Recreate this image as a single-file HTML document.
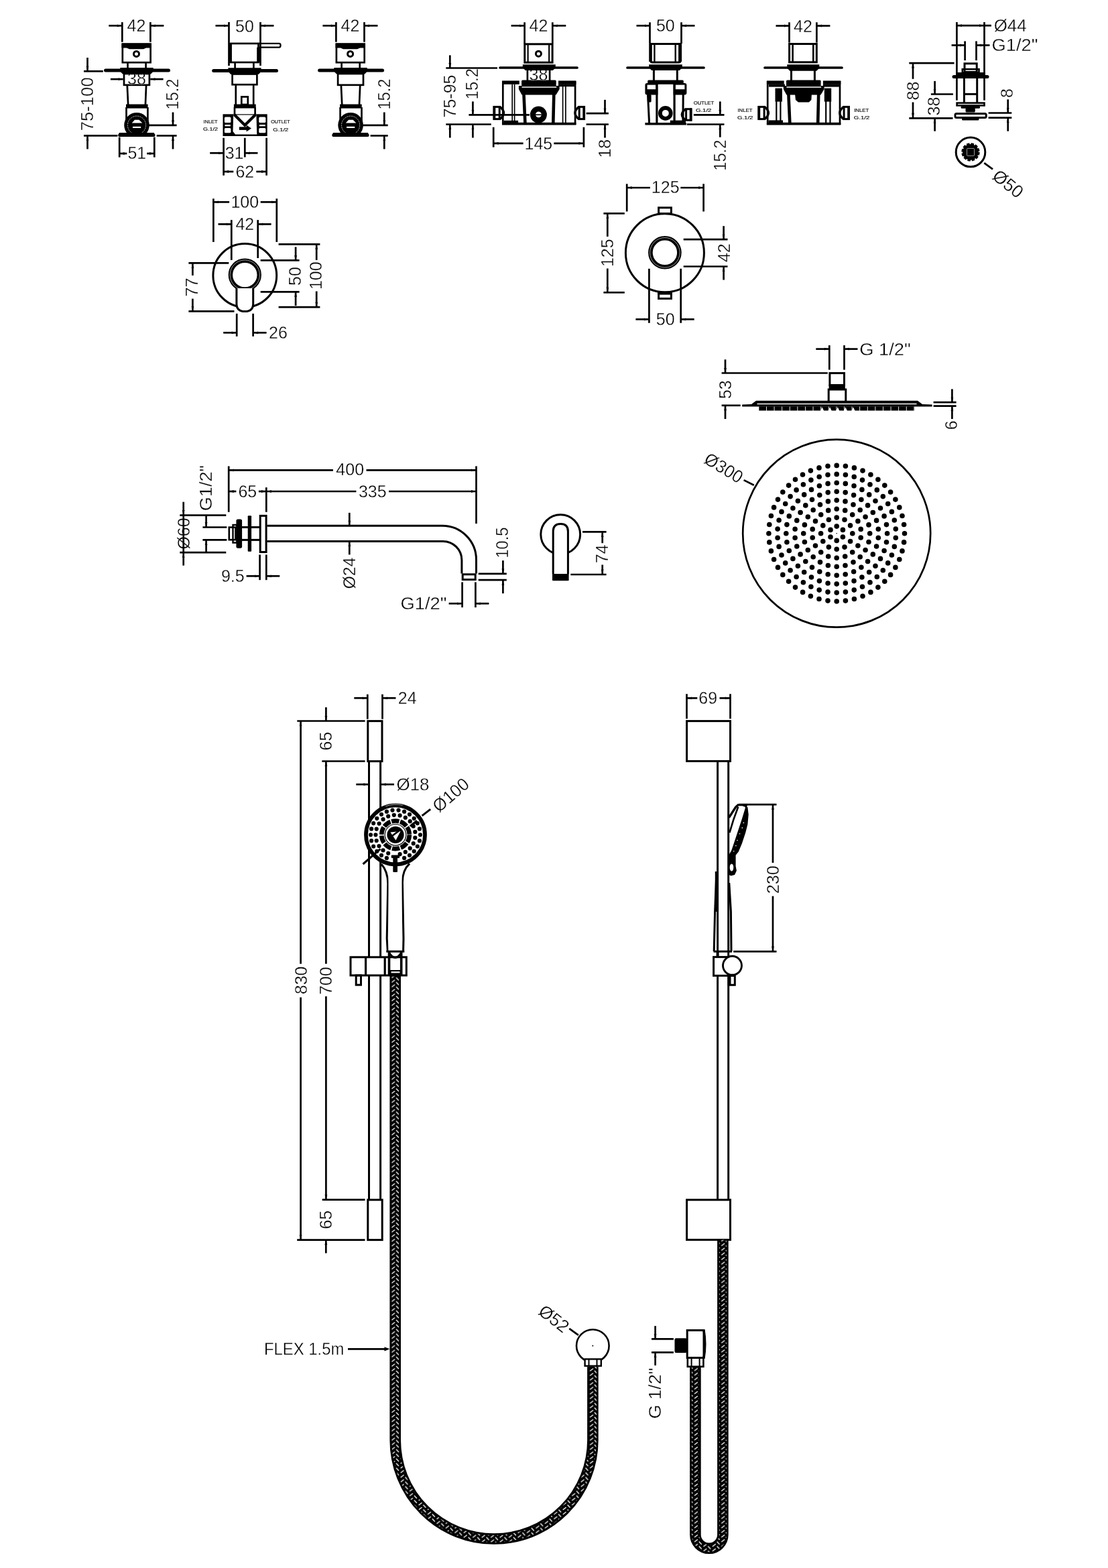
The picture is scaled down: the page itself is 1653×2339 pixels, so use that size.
<!DOCTYPE html>
<html lang="en"><head><meta charset="utf-8"><title>Shower set technical drawing</title>
<style>
html,body{margin:0;padding:0;background:#fff}
body{width:1653px;height:2339px;overflow:hidden}
svg{display:block;filter:grayscale(1)}
</style></head><body>
<svg width="1653" height="2339" viewBox="0 0 1653 2339">
<g fill="none" stroke="#000" stroke-width="2.7">
<clipPath id="cv"><rect x="180" y="160" width="50" height="42"/></clipPath>
<g transform="translate(0 0)">
<path d="M182.3 33.1L182.3 62.7"/>
<path d="M224.4 33.1L224.4 62.7"/>
<path d="M162.3 38.3L182.3 38.3"/>
<path d="M224.4 38.3L244.4 38.3"/>
<path d="M181.3 38.3L174.8 36.4L174.8 40.2Z" fill="#000" stroke="none"/>
<path d="M225.4 38.3L231.9 36.4L231.9 40.2Z" fill="#000" stroke="none"/>
<rect x="182.8" y="65.7" width="41.8" height="27.5"/>
<path d="M181.5 64.4L225.9 64.4L225.9 71.5L218 71.5L214 73.2L193 73.2L189 71.5L181.5 71.5Z" stroke-width="0" fill="#000"/>
<circle cx="203.5" cy="80.4" r="4" stroke-width="3"/>
<path d="M190.5 93L190.5 102"/>
<path d="M217.6 93L217.6 102"/>
<path d="M157.5 105.1L251.5 105.1" stroke-width="5" stroke-linecap="round"/>
<rect x="185" y="110" width="37.9" height="16.8"/>
<path d="M189.8 127.6L191.2 157"/>
<path d="M218.1 127.6L216.9 157"/>
<rect x="188" y="155.5" width="32.6" height="6.1" fill="#000" stroke="none"/>
<path d="M188.5 160L188.5 185"/>
<path d="M220.4 160L220.4 185"/>
<circle cx="204" cy="186.7" r="18.8" stroke-width="0" fill="#000" clip-path="url(#cv)"/>
<circle cx="204" cy="186.7" r="13.6" stroke-width="0.7" stroke="#fff" stroke-dasharray="2.4 1"/>
<path d="M196.7 183.6L201 178.7L207.5 178.7L212.3 183.6Z" stroke-width="0" fill="#fff"/>
<rect x="198" y="188.8" width="12.1" height="2.2" fill="#fff" stroke="none"/>
<path d="M176 201.5L178 198L229.7 198L231.7 201.5L230.5 203.9L177.2 203.9Z" stroke-width="0" fill="#000"/>
</g>
<g transform="translate(319.1 0)">
<path d="M182.3 33.1L182.3 62.7"/>
<path d="M224.4 33.1L224.4 62.7"/>
<path d="M162.3 38.3L182.3 38.3"/>
<path d="M224.4 38.3L244.4 38.3"/>
<path d="M181.3 38.3L174.8 36.4L174.8 40.2Z" fill="#000" stroke="none"/>
<path d="M225.4 38.3L231.9 36.4L231.9 40.2Z" fill="#000" stroke="none"/>
<rect x="182.8" y="65.7" width="41.8" height="27.5"/>
<path d="M181.5 64.4L225.9 64.4L225.9 71.5L218 71.5L214 73.2L193 73.2L189 71.5L181.5 71.5Z" stroke-width="0" fill="#000"/>
<circle cx="203.5" cy="80.4" r="4" stroke-width="3"/>
<path d="M190.5 93L190.5 102"/>
<path d="M217.6 93L217.6 102"/>
<path d="M157.5 105.1L251.5 105.1" stroke-width="5" stroke-linecap="round"/>
<rect x="185" y="110" width="37.9" height="16.8"/>
<path d="M189.8 127.6L191.2 157"/>
<path d="M218.1 127.6L216.9 157"/>
<rect x="188" y="155.5" width="32.6" height="6.1" fill="#000" stroke="none"/>
<path d="M188.5 160L188.5 185"/>
<path d="M220.4 160L220.4 185"/>
<circle cx="204" cy="186.7" r="18.8" stroke-width="0" fill="#000" clip-path="url(#cv)"/>
<circle cx="204" cy="186.7" r="13.6" stroke-width="0.7" stroke="#fff" stroke-dasharray="2.4 1"/>
<path d="M196.7 183.6L201 178.7L207.5 178.7L212.3 183.6Z" stroke-width="0" fill="#fff"/>
<rect x="198" y="188.8" width="12.1" height="2.2" fill="#fff" stroke="none"/>
<path d="M176 201.5L178 198L229.7 198L231.7 201.5L230.5 203.9L177.2 203.9Z" stroke-width="0" fill="#000"/>
</g>
<path d="M125 106.3L153.8 106.3"/>
<path d="M125 202.4L175.4 202.4"/>
<path d="M130.5 86L130.5 106.3"/>
<path d="M130.5 202.4L130.5 222.4"/>
<path d="M130.5 105.3L128.6 98.8L132.4 98.8Z" fill="#000" stroke="none"/>
<path d="M130.5 203.4L128.6 209.9L132.4 209.9Z" fill="#000" stroke="none"/>
<path d="M164.9 118.1L183.7 118.1"/>
<path d="M224.2 118.1L243.6 118.1"/>
<path d="M183 118.1L176.5 116.2L176.5 120Z" fill="#000" stroke="none"/>
<path d="M225 118.1L231.5 116.2L231.5 120Z" fill="#000" stroke="none"/>
<path d="M222 186.9L263.6 186.9"/>
<path d="M233.7 202.4L263.6 202.4"/>
<path d="M258 167.5L258 186.9"/>
<path d="M258 202.4L258 222.4"/>
<path d="M258 185.9L256.1 179.4L259.9 179.4Z" fill="#000" stroke="none"/>
<path d="M258 203.4L256.1 209.9L259.9 209.9Z" fill="#000" stroke="none"/>
<path d="M541.5 186.9L578.7 186.9"/>
<path d="M552.6 202.4L578.7 202.4"/>
<path d="M573.3 167.5L573.3 186.9"/>
<path d="M573.3 202.4L573.3 222.4"/>
<path d="M573.3 185.9L571.4 179.4L575.2 179.4Z" fill="#000" stroke="none"/>
<path d="M573.3 203.4L571.4 209.9L575.2 209.9Z" fill="#000" stroke="none"/>
<path d="M178.2 204.6L178.2 234.6"/>
<path d="M230.3 204.6L230.3 234.6"/>
<path d="M178.2 229L189.3 229"/>
<path d="M219.2 229L230.3 229"/>
<path d="M179.2 229L185.7 227.1L185.7 230.9Z" fill="#000" stroke="none"/>
<path d="M229.3 229L222.8 227.1L222.8 230.9Z" fill="#000" stroke="none"/>
<path d="M341.5 33L341.5 98.1"/>
<path d="M388.5 33L388.5 98.1"/>
<path d="M321.5 38.3L341.5 38.3"/>
<path d="M388.5 38.3L408.5 38.3"/>
<path d="M340.5 38.3L334 36.4L334 40.2Z" fill="#000" stroke="none"/>
<path d="M389.5 38.3L396 36.4L396 40.2Z" fill="#000" stroke="none"/>
<rect x="344.5" y="64.9" width="41" height="28.1"/>
<path d="M343.6 64L343.6 94" stroke-width="4"/>
<path d="M385.5 64.9H416.5Q418.5 64.9 418.5 67.5Q418.5 70.6 416.5 70.6H387V93" stroke-width="2.4"/>
<path d="M384.4 70.6L384.4 93" stroke-width="2.4"/>
<path d="M350.6 93L350.6 102"/>
<path d="M378.4 93L378.4 102"/>
<path d="M318.7 105.4L412.5 105.4" stroke-width="5" stroke-linecap="round"/>
<path d="M340.4 101.3L389.6 101.3L389.6 106.5L386 110.8L344 110.8L340.4 106.5Z" stroke-width="0" fill="#000"/>
<rect x="346.6" y="110.5" width="36.8" height="15.7"/>
<path d="M351.8 127L351.8 157"/>
<path d="M378.2 127L378.2 157"/>
<rect x="360.3" y="144.4" width="9.5" height="11.6"/>
<rect x="348.9" y="155.5" width="32.8" height="6" fill="#000" stroke="none"/>
<path d="M350 160L350 171"/>
<path d="M380.6 160L380.6 171"/>
<rect x="332.5" y="170.3" width="66.2" height="32.7" fill="#000" stroke="none"/>
<path d="M348.2 171.5L382.4 171.5L383.3 200.4L351 200.4L347.5 196Z" stroke-width="0" fill="#fff"/>
<path d="M349.5 171L365.3 186.8L381.2 171" stroke-width="4.2"/>
<path d="M356.8 191.6L370 191.6" stroke-width="4.6"/>
<path d="M367.6 186.6L375 191.6L367.6 196.4Z" stroke-width="0" fill="#000"/>
<rect x="334.9" y="174.6" width="9.5" height="8.4" fill="#fff" stroke="none" rx="1.5"/>
<rect x="335.5" y="186" width="8.3" height="2.3" fill="#fff" stroke="none"/>
<rect x="334.9" y="191" width="9.5" height="7.3" fill="#fff" stroke="none" rx="1.5"/>
<rect x="386.3" y="174.6" width="10.1" height="8.4" fill="#fff" stroke="none" rx="1.5"/>
<rect x="386.9" y="186" width="8.9" height="2.3" fill="#fff" stroke="none"/>
<rect x="386.3" y="191" width="10.1" height="7.3" fill="#fff" stroke="none" rx="1.5"/>
<path d="M333.6 205.7L333.6 261.7"/>
<path d="M397.6 205.7L397.6 261.7"/>
<path d="M365.3 205.7L365.3 234.5"/>
<path d="M313.2 228.3L333.6 228.3"/>
<path d="M365.3 228.3L384.5 228.3"/>
<path d="M332.6 228.3L326.1 226.4L326.1 230.2Z" fill="#000" stroke="none"/>
<path d="M366.3 228.3L372.8 226.4L372.8 230.2Z" fill="#000" stroke="none"/>
<path d="M333.6 256L348.3 256"/>
<path d="M382.3 256L397.6 256"/>
<path d="M334.6 256L341.1 254.1L341.1 257.9Z" fill="#000" stroke="none"/>
<path d="M396.6 256L390.1 254.1L390.1 257.9Z" fill="#000" stroke="none"/>
<path d="M782.6 33.3L782.6 64.9"/>
<path d="M824.3 33.3L824.3 64.9"/>
<path d="M762.6 38.3L782.6 38.3"/>
<path d="M824.3 38.3L844.3 38.3"/>
<path d="M781.6 38.3L775.1 36.4L775.1 40.2Z" fill="#000" stroke="none"/>
<path d="M825.3 38.3L831.8 36.4L831.8 40.2Z" fill="#000" stroke="none"/>
<rect x="782.8" y="65.8" width="41.3" height="27.4" stroke-width="3"/>
<path d="M787.6 65L787.6 93" stroke-width="2.2"/>
<path d="M819.2 65L819.2 93" stroke-width="2.2"/>
<circle cx="803.4" cy="80.2" r="4" stroke-width="3"/>
<path d="M746 101L861 101" stroke-width="3.7" stroke-linecap="round"/>
<path d="M786.9 104L786.9 120.6"/>
<path d="M820.1 104L820.1 120.6"/>
<g transform="translate(0 0)">
<path d="M750.3 121L750.3 186"/>
<path d="M858.1 121L858.1 186"/>
<path d="M749 184.6L859.4 184.6" stroke-width="3.6"/>
<rect x="749" y="120.4" width="25.8" height="5.4" fill="#000" stroke="none"/>
<rect x="833" y="120.4" width="26.4" height="5.4" fill="#000" stroke="none"/>
<rect x="778.1" y="119.6" width="51.6" height="8.7" fill="#000" stroke="none" rx="1.5"/>
<path d="M773.9 128L834.7 128L834.7 133L829.5 141.6L778.5 141.6L773.9 133Z" stroke-width="0" fill="#000"/>
<path d="M778.5 130L830.2 130" stroke-width="1.6" stroke="#fff"/>
<path d="M781.5 141L783.4 183" stroke-width="4.6"/>
<path d="M826.3 141L825.3 183" stroke-width="4.6"/>
<path d="M764.2 125.6L764.2 183" stroke-width="1.7"/>
<path d="M767.6 125.6L767.6 183" stroke-width="1.7"/>
<path d="M839.6 125.6L839.6 183" stroke-width="1.7"/>
<path d="M843.9 125.6L843.9 183" stroke-width="1.7"/>
<rect x="833" y="125.5" width="24" height="3.7" fill="#000" stroke="none"/>
<rect x="751.5" y="179.8" width="21.6" height="4.2" fill="#000" stroke="none"/>
<circle cx="803.4" cy="171.1" r="12.5" stroke-width="0" fill="#000"/>
<circle cx="803.4" cy="170.8" r="4.4" stroke-width="0" fill="#fff"/>
<path d="M799 171.2L807.8 171.2" stroke-width="1.6"/>
<rect x="737" y="159.4" width="8.2" height="18.2" stroke-width="3"/>
<path d="M737.5 158.1L737.5 178.9" stroke-width="3.6"/>
<path d="M745.5 159.1Q757.5 168.5 745.5 177.9" stroke-width="3.4"/>
<rect x="864.2" y="159.4" width="7.4" height="18.2" stroke-width="3"/>
<path d="M871.1 158.1L871.1 178.9" stroke-width="3.6"/>
<path d="M863.9 159.1Q851.9 168.5 863.9 177.9" stroke-width="3.4"/>
</g>
<path d="M665.3 101.5L742 101.5"/>
<path d="M671.3 82.4L671.3 101.5"/>
<path d="M671.3 100.5L669.4 94L673.2 94Z" fill="#000" stroke="none"/>
<path d="M665.3 185.5L732.7 185.5"/>
<path d="M671.3 185.5L671.3 205.5"/>
<path d="M671.3 186.5L669.4 193L673.2 193Z" fill="#000" stroke="none"/>
<path d="M705.4 185.5L705.4 205.5"/>
<path d="M705.4 186.5L703.5 193L707.3 193Z" fill="#000" stroke="none"/>
<path d="M705.4 151.4L705.4 171.4"/>
<path d="M705.4 170.4L703.5 163.9L707.3 163.9Z" fill="#000" stroke="none"/>
<path d="M699.4 171.4L790 171.4"/>
<path d="M736.2 189.7L736.2 219.6"/>
<path d="M870.9 189.7L870.9 219.6"/>
<path d="M736.2 213.8L780.6 213.8"/>
<path d="M826.3 213.8L870.9 213.8"/>
<path d="M737.2 213.8L743.7 211.9L743.7 215.7Z" fill="#000" stroke="none"/>
<path d="M869.9 213.8L863.4 211.9L863.4 215.7Z" fill="#000" stroke="none"/>
<path d="M874.6 169.2L907.9 169.2"/>
<path d="M874.6 185.5L907.9 185.5"/>
<path d="M902.5 148.9L902.5 169.2"/>
<path d="M902.5 185.5L902.5 205.5"/>
<path d="M902.5 168.2L900.6 161.7L904.4 161.7Z" fill="#000" stroke="none"/>
<path d="M902.5 186.5L900.6 193L904.4 193Z" fill="#000" stroke="none"/>
<path d="M969.5 33.3L969.5 64.9"/>
<path d="M1016.5 33.3L1016.5 64.9"/>
<path d="M949.5 38.3L969.5 38.3"/>
<path d="M1016.5 38.3L1036.5 38.3"/>
<path d="M968.5 38.3L962 36.4L962 40.2Z" fill="#000" stroke="none"/>
<path d="M1017.5 38.3L1024 36.4L1024 40.2Z" fill="#000" stroke="none"/>
<path d="M970.5 65.5H1015.3V90Q1015.3 93 1012.3 93H973.5Q970.5 93 970.5 90Z" stroke-width="3"/>
<path d="M970.5 65L970.5 92" stroke-width="4.6"/>
<path d="M1014.6 65L1014.6 92" stroke-width="5"/>
<path d="M976.4 66L976.4 93" stroke-width="2.4"/>
<path d="M1007.7 66L1007.7 93" stroke-width="2.4"/>
<path d="M936 101L1050 101" stroke-width="3.7" stroke-linecap="round"/>
<path d="M968.2 96.2L1017.8 96.2L1017.8 101.1L1013.8 104.9L972.2 104.9L968.2 101.1Z" fill="#000" stroke="none"/>
<path d="M975.4 104L975.4 120.6" stroke-width="3"/>
<path d="M1010.3 104L1010.3 120.6" stroke-width="3"/>
<rect x="966.2" y="119.6" width="53.6" height="6.2" fill="#000" stroke="none" rx="1.5"/>
<rect x="962.4" y="124" width="62" height="17.6" fill="#000" stroke="none" rx="3"/>
<rect x="965.6" y="126.6" width="12.7" height="6.6" fill="#fff" stroke="none"/>
<rect x="1007.6" y="126.6" width="13.8" height="6.6" fill="#fff" stroke="none"/>
<rect x="981.4" y="125.8" width="23.2" height="57.2" fill="#fff" stroke="none"/>
<path d="M979.9 125L979.9 184" stroke-width="3.2"/>
<path d="M1006.1 125L1006.1 184" stroke-width="3.2"/>
<path d="M966.5 141L968.6 184" stroke-width="3"/>
<path d="M1019.2 141L1018.9 184" stroke-width="3"/>
<rect x="965.8" y="141" width="5.8" height="11.5" fill="#000" stroke="none" rx="1.5"/>
<path d="M962.4 184.7L1023.9 184.7" stroke-width="3.6"/>
<rect x="999.8" y="179.6" width="23.2" height="4.9" fill="#000" stroke="none"/>
<circle cx="992.8" cy="168.9" r="7.9" stroke-width="5.8" fill="#fff"/>
<rect x="1023.6" y="162.7" width="7.4" height="16.5" stroke-width="3"/>
<path d="M1030.5 161.4L1030.5 180.5" stroke-width="3.6"/>
<path d="M1023.3 162.4Q1011.3 170.9 1023.3 179.5" stroke-width="3.4"/>
<path d="M1034.8 171.4L1080.5 171.4"/>
<path d="M1024.8 185.5L1080.5 185.5"/>
<path d="M1074.3 151.4L1074.3 171.4"/>
<path d="M1074.3 185.5L1074.3 204.7"/>
<path d="M1074.3 170.4L1072.4 163.9L1076.2 163.9Z" fill="#000" stroke="none"/>
<path d="M1074.3 186.5L1072.4 193L1076.2 193Z" fill="#000" stroke="none"/>
<path d="M1177.5 33.3L1177.5 63.6"/>
<path d="M1218.4 33.3L1218.4 63.6"/>
<path d="M1157.5 38.5L1177.5 38.5"/>
<path d="M1218.4 38.5L1238.4 38.5"/>
<path d="M1176.5 38.5L1170 36.6L1170 40.4Z" fill="#000" stroke="none"/>
<path d="M1219.4 38.5L1225.9 36.6L1225.9 40.4Z" fill="#000" stroke="none"/>
<rect x="1177.6" y="65.5" width="40.7" height="27.3" stroke-width="3"/>
<path d="M1182.6 65L1182.6 93" stroke-width="2.6"/>
<path d="M1213.3 65L1213.3 93" stroke-width="2.6"/>
<path d="M1141 101L1256 101" stroke-width="3.7" stroke-linecap="round"/>
<path d="M1174.3 96.2L1222.3 96.2L1222.3 101.5L1218.3 105.8L1178.3 105.8L1174.3 101.5Z" fill="#000" stroke="none"/>
<path d="M1180.5 105L1180.5 120.6" stroke-width="3"/>
<path d="M1215.4 105L1215.4 120.6" stroke-width="3"/>
<g transform="translate(394.9 0)">
<path d="M750.3 121L750.3 186"/>
<path d="M858.1 121L858.1 186"/>
<path d="M749 184.6L859.4 184.6" stroke-width="3.6"/>
<rect x="749" y="120.4" width="25.8" height="5.4" fill="#000" stroke="none"/>
<rect x="833" y="120.4" width="26.4" height="5.4" fill="#000" stroke="none"/>
<rect x="778.1" y="119.6" width="51.6" height="8.7" fill="#000" stroke="none" rx="1.5"/>
<path d="M773.9 128L834.7 128L834.7 133L829.5 141.6L778.5 141.6L773.9 133Z" stroke-width="0" fill="#000"/>
<path d="M778.5 130L830.2 130" stroke-width="1.6" stroke="#fff"/>
<path d="M781.5 141L783.4 183" stroke-width="4.6"/>
<path d="M826.3 141L825.3 183" stroke-width="4.6"/>
<rect x="752" y="125.5" width="24" height="4.1" fill="#000" stroke="none"/>
<rect x="833" y="125.5" width="24" height="4.1" fill="#000" stroke="none"/>
<rect x="761.6" y="131.6" width="10.4" height="20" fill="#000" stroke="none"/>
<rect x="834.9" y="131.6" width="10.4" height="20" fill="#000" stroke="none"/>
<path d="M763.4 151L763.4 183" stroke-width="2.2"/>
<path d="M769.5 151L769.5 183" stroke-width="2.2"/>
<path d="M837.3 151L837.3 183" stroke-width="2.2"/>
<path d="M843.6 151L843.6 183" stroke-width="2.2"/>
<path d="M791.2 141L816 141L815.5 149L812 152.6L796 152.6L792 149Z" stroke-width="0" fill="#000"/>
<rect x="751.5" y="179.4" width="21.6" height="4.6" fill="#000" stroke="none"/>
<rect x="737" y="159.4" width="8.2" height="18.2" stroke-width="3"/>
<path d="M737.5 158.1L737.5 178.9" stroke-width="3.6"/>
<path d="M745.5 159.1Q757.5 168.5 745.5 177.9" stroke-width="3.4"/>
<rect x="864.2" y="159.4" width="7.4" height="18.2" stroke-width="3"/>
<path d="M871.1 158.1L871.1 178.9" stroke-width="3.6"/>
<path d="M863.9 159.1Q851.9 168.5 863.9 177.9" stroke-width="3.4"/>
</g>
<path d="M1427.4 33L1427.4 149.7"/>
<path d="M1468.5 33L1468.5 149.7"/>
<path d="M1427.4 38.1L1478.9 38.1"/>
<path d="M1428.4 38.1L1434.9 36.2L1434.9 40Z" fill="#000" stroke="none"/>
<path d="M1467.5 38.1L1461 36.2L1461 40Z" fill="#000" stroke="none"/>
<path d="M1439.6 61.4L1439.6 90.1"/>
<path d="M1456.5 61.4L1456.5 90.1"/>
<path d="M1419.6 67.5L1439.6 67.5"/>
<path d="M1456.5 67.5L1476.5 67.5"/>
<path d="M1438.6 67.5L1432.1 65.6L1432.1 69.4Z" fill="#000" stroke="none"/>
<path d="M1457.5 67.5L1464 65.6L1464 69.4Z" fill="#000" stroke="none"/>
<path d="M1356.3 94.1L1423.6 94.1"/>
<path d="M1356.3 176.3L1421.5 176.3"/>
<path d="M1362 94.1L1362 117.8"/>
<path d="M1362 152.5L1362 176.3"/>
<path d="M1362 95.1L1360.1 101.6L1363.9 101.6Z" fill="#000" stroke="none"/>
<path d="M1362 175.3L1360.1 168.8L1363.9 168.8Z" fill="#000" stroke="none"/>
<path d="M1388.9 140.5L1421.9 140.5"/>
<path d="M1394.6 120.9L1394.6 140.5"/>
<path d="M1394.6 176.3L1394.6 195.7"/>
<path d="M1394.6 139.5L1392.7 133L1396.5 133Z" fill="#000" stroke="none"/>
<path d="M1394.6 177.3L1392.7 183.8L1396.5 183.8Z" fill="#000" stroke="none"/>
<path d="M1474.6 168.5L1509.3 168.5"/>
<path d="M1474.6 175.6L1509.3 175.6"/>
<path d="M1503.7 148.3L1503.7 168.5"/>
<path d="M1503.7 175.6L1503.7 195.7"/>
<path d="M1503.7 167.5L1501.8 161L1505.6 161Z" fill="#000" stroke="none"/>
<path d="M1503.7 176.6L1501.8 183.1L1505.6 183.1Z" fill="#000" stroke="none"/>
<rect x="1439" y="94.8" width="18.2" height="12.7" stroke-width="3"/>
<rect x="1435.8" y="103.2" width="24.7" height="5.2" stroke-width="2.6"/>
<rect x="1426.4" y="108" width="43.4" height="4.5" fill="#000" stroke="none"/>
<path d="M1423 114.6L1473 114.6" stroke-width="5" stroke-linecap="round"/>
<path d="M1438.4 117L1438.4 153" stroke-width="3"/>
<path d="M1457.7 117L1457.7 153" stroke-width="3"/>
<path d="M1437.5 140.4L1458.5 140.4" stroke-width="3"/>
<rect x="1427.6" y="153.6" width="40.9" height="3.8" stroke-width="2.6"/>
<rect x="1433.5" y="158" width="28.5" height="3.8" fill="#000" stroke="none" rx="1.5"/>
<rect x="1440.5" y="161" width="14.3" height="6.6" fill="#000" stroke="none" rx="1.5"/>
<rect x="1425" y="169.4" width="46.2" height="6" stroke-width="3" rx="2"/>
<rect x="1435" y="176" width="25.5" height="3.5" fill="#000" stroke="none" rx="1.5"/>
<circle cx="1448" cy="226.9" r="21.8" stroke-width="3"/>
<circle cx="1448" cy="226.9" r="11.8" stroke-width="0" fill="#000"/>
<circle cx="1448" cy="226.9" r="12.2" stroke-width="3" stroke-dasharray="4.4 2"/>
<rect x="1442.5" y="221.4" width="11" height="11" stroke-width="0.6" rx="1" stroke="#fff"/>
<path d="M1468.3 243.2L1481 252.4"/>
<path d="M318.4 296.3L318.4 361"/>
<path d="M412.8 296.3L412.8 361"/>
<path d="M318.4 301.4L342.1 301.4"/>
<path d="M388.7 301.4L412.8 301.4"/>
<path d="M319.4 301.4L325.9 299.5L325.9 303.3Z" fill="#000" stroke="none"/>
<path d="M411.8 301.4L405.3 299.5L405.3 303.3Z" fill="#000" stroke="none"/>
<path d="M345.3 328.1L345.3 388"/>
<path d="M384.7 328.1L384.7 385"/>
<path d="M325.5 334.4L345.3 334.4"/>
<path d="M384.7 334.4L404.6 334.4"/>
<path d="M344.3 334.4L337.8 332.5L337.8 336.3Z" fill="#000" stroke="none"/>
<path d="M385.7 334.4L392.2 332.5L392.2 336.3Z" fill="#000" stroke="none"/>
<circle cx="365.3" cy="410.9" r="47.4" stroke-width="3"/>
<circle cx="365.3" cy="410.1" r="21.4" stroke-width="6.4" fill="#fff"/>
<circle cx="365.3" cy="410.1" r="22.2" stroke-width="0.6" stroke="#fff"/>
<path d="M352.9 430V453Q352.9 464.6 365.3 464.6Q377.7 464.6 377.7 453V430" stroke-width="3" fill="#fff"/>
<path d="M281.4 392.4L341.3 392.4"/>
<path d="M281.4 464.4L349.5 464.4"/>
<path d="M287.4 392.4L287.4 410.9"/>
<path d="M287.4 445.6L287.4 464.4"/>
<path d="M287.4 393.4L285.5 399.9L289.3 399.9Z" fill="#000" stroke="none"/>
<path d="M287.4 463.4L285.5 456.9L289.3 456.9Z" fill="#000" stroke="none"/>
<path d="M388.7 388.4L446.6 388.4"/>
<path d="M388.7 435.3L446.6 435.3"/>
<path d="M441.1 368.4L441.1 388.4"/>
<path d="M441.1 435.3L441.1 456"/>
<path d="M441.1 387.4L439.2 380.9L443 380.9Z" fill="#000" stroke="none"/>
<path d="M441.1 436.3L439.2 442.8L443 442.8Z" fill="#000" stroke="none"/>
<path d="M415.6 364.3L477.4 364.3"/>
<path d="M415.6 458.2L477.4 458.2"/>
<path d="M472.2 364.3L472.2 388"/>
<path d="M472.2 434.5L472.2 458.2"/>
<path d="M472.2 365.3L470.3 371.8L474.1 371.8Z" fill="#000" stroke="none"/>
<path d="M472.2 457.2L470.3 450.7L474.1 450.7Z" fill="#000" stroke="none"/>
<path d="M353.2 467.8L353.2 501.8"/>
<path d="M377.6 467.8L377.6 501.8"/>
<path d="M333.2 496.3L353.2 496.3"/>
<path d="M377.6 496.3L397.6 496.3"/>
<path d="M352.2 496.3L345.7 494.4L345.7 498.2Z" fill="#000" stroke="none"/>
<path d="M378.6 496.3L385.1 494.4L385.1 498.2Z" fill="#000" stroke="none"/>
<path d="M935.2 274.3L935.2 315.5"/>
<path d="M1049.6 274.3L1049.6 315.5"/>
<path d="M935.2 280L969.9 280"/>
<path d="M1015.3 280L1049.6 280"/>
<path d="M936.2 280L942.7 278.1L942.7 281.9Z" fill="#000" stroke="none"/>
<path d="M1048.6 280L1042.1 278.1L1042.1 281.9Z" fill="#000" stroke="none"/>
<path d="M900.4 318.4L931.8 318.4"/>
<path d="M900.4 436.3L931.8 436.3"/>
<path d="M906.3 318.4L906.3 352.9"/>
<path d="M906.3 400.5L906.3 436.3"/>
<path d="M906.3 319.4L904.4 325.9L908.2 325.9Z" fill="#000" stroke="none"/>
<path d="M906.3 435.3L904.4 428.8L908.2 428.8Z" fill="#000" stroke="none"/>
<circle cx="991.9" cy="377.3" r="58.5" stroke-width="3"/>
<circle cx="991.9" cy="376.8" r="21.5" stroke-width="6.6" fill="#fff"/>
<circle cx="991.9" cy="376.8" r="22.3" stroke-width="0.6" stroke="#fff"/>
<rect x="982.6" y="309.8" width="18.8" height="8.8" stroke-width="3" fill="#fff"/>
<rect x="982.6" y="437.4" width="18.8" height="8" stroke-width="3" fill="#fff"/>
<rect x="981.3" y="435" width="21.4" height="4.6" fill="#000" stroke="none"/>
<path d="M1019.7 357.2L1085.5 357.2"/>
<path d="M1019.7 397.5L1085.5 397.5"/>
<path d="M1079.6 337.2L1079.6 357.2"/>
<path d="M1079.6 397.5L1079.6 417.5"/>
<path d="M1079.6 356.2L1077.7 349.7L1081.5 349.7Z" fill="#000" stroke="none"/>
<path d="M1079.6 398.5L1077.7 405L1081.5 405Z" fill="#000" stroke="none"/>
<path d="M968.4 400.8L968.4 481.8"/>
<path d="M1015.7 400.8L1015.7 481.8"/>
<path d="M948.4 476.3L968.4 476.3"/>
<path d="M1015.7 476.3L1035.7 476.3"/>
<path d="M967.4 476.3L960.9 474.4L960.9 478.2Z" fill="#000" stroke="none"/>
<path d="M1016.7 476.3L1023.2 474.4L1023.2 478.2Z" fill="#000" stroke="none"/>
<path d="M1237.3 515.1L1237.3 551.6"/>
<path d="M1259.5 515.1L1259.5 551.6"/>
<path d="M1217.3 520.6L1237.3 520.6"/>
<path d="M1259.5 520.6L1279.5 520.6"/>
<path d="M1236.3 520.6L1229.8 518.7L1229.8 522.5Z" fill="#000" stroke="none"/>
<path d="M1260.5 520.6L1267 518.7L1267 522.5Z" fill="#000" stroke="none"/>
<path d="M1076.6 556.5L1234.8 556.5"/>
<path d="M1082 536.3L1082 556.5"/>
<path d="M1082 555.5L1080.1 549L1083.9 549Z" fill="#000" stroke="none"/>
<path d="M1076.6 604.8L1104.7 604.8"/>
<path d="M1082 604.8L1082 625"/>
<path d="M1082 605.8L1080.1 612.3L1083.9 612.3Z" fill="#000" stroke="none"/>
<rect x="1237.9" y="556.6" width="21.6" height="17.9" stroke-width="3"/>
<rect x="1236.6" y="573.8" width="24.2" height="6.4" fill="#000" stroke="none"/>
<rect x="1236.2" y="581" width="25.6" height="19" stroke-width="3"/>
<path d="M1107.2 603.4L1121 603L1128 597.8L1369 597.8L1376 603L1390.6 603.4L1390.6 606.4L1107.2 606.4Z" stroke-width="0" fill="#000"/>
<path d="M1129.5 602.5L1367.5 602.5" stroke-width="1.5" stroke="#fff"/>
<path d="M1132.3 609.4H1364.5" stroke-width="6.4" stroke-dasharray="10.7 0.9"/>
<path d="M1224 613L1226.6 607.2L1229.2 613Z" stroke-width="0" fill="#fff"/>
<path d="M1235.6 613L1238.2 607.2L1240.8 613Z" stroke-width="0" fill="#fff"/>
<path d="M1247.2 613L1249.8 607.2L1252.4 613Z" stroke-width="0" fill="#fff"/>
<path d="M1258.8 613L1261.4 607.2L1264 613Z" stroke-width="0" fill="#fff"/>
<path d="M1270.4 613L1273 607.2L1275.6 613Z" stroke-width="0" fill="#fff"/>
<path d="M1392.6 600.2L1426.6 600.2"/>
<path d="M1392.6 605.6L1426.6 605.6"/>
<path d="M1420.4 580.4L1420.4 600.2"/>
<path d="M1420.4 605.6L1420.4 625"/>
<path d="M1420.4 599.2L1418.5 592.7L1422.3 592.7Z" fill="#000" stroke="none"/>
<path d="M1420.4 606.6L1418.5 613.1L1422.3 613.1Z" fill="#000" stroke="none"/>
<circle cx="1248.2" cy="795.7" r="140" stroke-width="2.7"/>
<circle cx="1248.2" cy="795.7" r="0.8" stroke-width="0" fill="#000"/>
<path d="M1248.2 785.1h0M1257.4 790.4h0M1257.4 801h0M1248.2 806.4h0M1239 801h0M1239 790.4h0M1248.2 772.1h0M1260 775.3h0M1268.6 783.9h0M1271.8 795.7h0M1268.6 807.5h0M1260 816.1h0M1248.2 819.3h0M1236.4 816.1h0M1227.8 807.5h0M1224.6 795.7h0M1227.8 783.9h0M1236.4 775.3h0M1248.2 759.2h0M1260.7 761.4h0M1271.7 767.7h0M1279.9 777.4h0M1284.2 789.4h0M1284.2 802h0M1279.9 814h0M1271.7 823.7h0M1260.7 830h0M1248.2 832.2h0M1235.7 830h0M1224.7 823.7h0M1216.5 814h0M1212.2 802h0M1212.2 789.4h0M1216.5 777.4h0M1224.7 767.7h0M1235.7 761.4h0M1248.2 746.2h0M1261 747.9h0M1273 752.8h0M1283.2 760.7h0M1291.1 771h0M1296 782.9h0M1297.7 795.7h0M1296 808.5h0M1291.1 820.5h0M1283.2 830.7h0M1273 838.6h0M1261 843.5h0M1248.2 845.2h0M1235.4 843.5h0M1223.5 838.6h0M1213.2 830.7h0M1205.3 820.5h0M1200.4 808.5h0M1198.7 795.7h0M1200.4 782.9h0M1205.3 771h0M1213.2 760.7h0M1223.5 752.8h0M1235.4 747.9h0M1248.2 733.2h0M1261.2 734.6h0M1273.6 738.6h0M1284.9 745.2h0M1294.6 753.9h0M1302.3 764.5h0M1307.6 776.4h0M1310.3 789.2h0M1310.3 802.2h0M1307.6 815h0M1302.3 826.9h0M1294.6 837.5h0M1284.9 846.2h0M1273.6 852.8h0M1261.2 856.8h0M1248.2 858.2h0M1235.2 856.8h0M1222.8 852.8h0M1211.5 846.2h0M1201.8 837.5h0M1194.1 826.9h0M1188.8 815h0M1186.1 802.2h0M1186.1 789.2h0M1188.8 776.4h0M1194.1 764.5h0M1201.8 753.9h0M1211.5 745.2h0M1222.8 738.6h0M1235.2 734.6h0M1248.2 720.3h0M1261.3 721.4h0M1274 724.8h0M1285.9 730.4h0M1296.7 737.9h0M1306 747.2h0M1313.5 758h0M1319.1 769.9h0M1322.5 782.6h0M1323.6 795.7h0M1322.5 808.8h0M1319.1 821.5h0M1313.5 833.4h0M1306 844.2h0M1296.7 853.5h0M1285.9 861h0M1274 866.6h0M1261.3 870h0M1248.2 871.1h0M1235.1 870h0M1222.4 866.6h0M1210.5 861h0M1199.7 853.5h0M1190.4 844.2h0M1182.9 833.4h0M1177.3 821.5h0M1173.9 808.8h0M1172.8 795.7h0M1173.9 782.6h0M1177.3 769.9h0M1182.9 758h0M1190.4 747.2h0M1199.7 737.9h0M1210.5 730.4h0M1222.4 724.8h0M1235.1 721.4h0M1248.2 707.4h0M1261.4 708.3h0M1274.2 711.3h0M1286.5 716.1h0M1298 722.7h0M1308.3 730.9h0M1317.3 740.6h0M1324.7 751.5h0M1330.4 763.4h0M1334.3 776h0M1336.3 789.1h0M1336.3 802.3h0M1334.3 815.4h0M1330.4 828h0M1324.7 839.9h0M1317.3 850.8h0M1308.3 860.5h0M1298 868.7h0M1286.5 875.3h0M1274.2 880.1h0M1261.4 883.1h0M1248.2 884.1h0M1235 883.1h0M1222.2 880.1h0M1209.9 875.3h0M1198.4 868.7h0M1188.1 860.5h0M1179.1 850.8h0M1171.7 839.9h0M1166 828h0M1162.1 815.4h0M1160.1 802.3h0M1160.1 789.1h0M1162.1 776h0M1166 763.4h0M1171.7 751.5h0M1179.1 740.6h0M1188.1 730.9h0M1198.4 722.7h0M1209.9 716.1h0M1222.2 711.3h0M1235 708.3h0M1248.2 694.4h0M1261.4 695.3h0M1274.4 697.9h0M1287 702.1h0M1298.9 708h0M1309.9 715.3h0M1319.8 724.1h0M1328.6 734h0M1335.9 745.1h0M1341.8 756.9h0M1346 769.5h0M1348.6 782.5h0M1349.5 795.7h0M1348.6 808.9h0M1346 821.9h0M1341.8 834.5h0M1335.9 846.4h0M1328.6 857.4h0M1319.8 867.3h0M1309.9 876.1h0M1298.9 883.4h0M1287 889.3h0M1274.4 893.5h0M1261.4 896.1h0M1248.2 897h0M1235 896.1h0M1222 893.5h0M1209.4 889.3h0M1197.6 883.4h0M1186.5 876.1h0M1176.6 867.3h0M1167.8 857.4h0M1160.5 846.4h0M1154.6 834.5h0M1150.4 821.9h0M1147.8 808.9h0M1146.9 795.7h0M1147.8 782.5h0M1150.4 769.5h0M1154.6 756.9h0M1160.5 745.1h0M1167.8 734h0M1176.6 724.1h0M1186.5 715.3h0M1197.5 708h0M1209.4 702.1h0M1222 697.9h0M1235 695.3h0" stroke-width="7.6" stroke-linecap="round"/>
<path d="M1109.6 716.1L1124.8 723.8"/>
<path d="M341.2 695.4L341.2 763.8"/>
<path d="M710.5 695.4L710.5 781.1"/>
<path d="M341.2 701.3L496.9 701.3"/>
<path d="M546.5 701.3L710.5 701.3"/>
<path d="M342.2 701.3L348.7 699.4L348.7 703.2Z" fill="#000" stroke="none"/>
<path d="M709.5 701.3L703 699.4L703 703.2Z" fill="#000" stroke="none"/>
<path d="M397.3 727.1L397.3 763.8"/>
<path d="M341.2 733L352.4 733"/>
<path d="M385.9 733L397.3 733"/>
<path d="M342.2 733L348.7 731.1L348.7 734.9Z" fill="#000" stroke="none"/>
<path d="M396.3 733L389.8 731.1L389.8 734.9Z" fill="#000" stroke="none"/>
<path d="M397.3 733L531.4 733"/>
<path d="M580 733L710.5 733"/>
<path d="M398.3 733L404.8 731.1L404.8 734.9Z" fill="#000" stroke="none"/>
<path d="M709.5 733L703 731.1L703 734.9Z" fill="#000" stroke="none"/>
<path d="M268.3 768.6L337.3 768.6"/>
<path d="M268.3 824.2L337.3 824.2"/>
<path d="M273.7 767.6L271.8 761.1L275.6 761.1Z" fill="#000" stroke="none"/>
<path d="M273.7 825.2L271.8 831.7L275.6 831.7Z" fill="#000" stroke="none"/>
<path d="M302.4 786.5L338.4 786.5"/>
<path d="M302.4 805.4L338.4 805.4"/>
<path d="M307.6 768.6L307.6 786.5"/>
<path d="M307.6 805.4L307.6 824.2"/>
<path d="M307.6 785.5L305.7 779L309.5 779Z" fill="#000" stroke="none"/>
<path d="M307.6 806.4L305.7 812.9L309.5 812.9Z" fill="#000" stroke="none"/>
<rect x="341.8" y="786.6" width="9.7" height="18.6" stroke-width="2.6"/>
<rect x="347.5" y="783" width="6" height="26.6" stroke-width="2.4"/>
<rect x="352.4" y="774.6" width="8.7" height="43.1" fill="#000" stroke="none" rx="2.5"/>
<path d="M361 786.5L387 786.5" stroke-width="3"/>
<path d="M361 805.4L387 805.4" stroke-width="3"/>
<rect x="369.7" y="769.2" width="5.4" height="53.5" fill="#000" stroke="none" rx="1"/>
<rect x="388.2" y="769.4" width="8.9" height="54.1" stroke-width="3" fill="#fff"/>
<path d="M398.4 784.3H659.8A50.7 50.7 0 0 1 710.5 835V855.5" stroke-width="3"/>
<path d="M398.4 807.4H660.9A28 28 0 0 1 688.9 835.4V855.5" stroke-width="3"/>
<rect x="690.2" y="856.8" width="19" height="7.8" stroke-width="3"/>
<path d="M387.6 827.4L387.6 865.2"/>
<path d="M397.3 827.4L397.3 865.2"/>
<path d="M367.6 859.3L387.6 859.3"/>
<path d="M397.3 859.3L417.3 859.3"/>
<path d="M386.6 859.3L380.1 857.4L380.1 861.2Z" fill="#000" stroke="none"/>
<path d="M398.3 859.3L404.8 857.4L404.8 861.2Z" fill="#000" stroke="none"/>
<path d="M521.3 764.9L521.3 784.3"/>
<path d="M521.3 807.4L521.3 827.4"/>
<path d="M521.3 783.3L519.4 776.8L523.2 776.8Z" fill="#000" stroke="none"/>
<path d="M521.3 808.4L519.4 814.9L523.2 814.9Z" fill="#000" stroke="none"/>
<path d="M713.7 855.9L755.8 855.9"/>
<path d="M713.7 865.2L755.8 865.2"/>
<path d="M750.4 836.1L750.4 855.9"/>
<path d="M750.4 865.2L750.4 885.2"/>
<path d="M750.4 854.9L748.5 848.4L752.3 848.4Z" fill="#000" stroke="none"/>
<path d="M750.4 866.2L748.5 872.7L752.3 872.7Z" fill="#000" stroke="none"/>
<path d="M689.6 868.4L689.6 906.1"/>
<path d="M709.4 868.4L709.4 906.1"/>
<path d="M669.6 900.3L689.6 900.3"/>
<path d="M709.4 900.3L729.4 900.3"/>
<path d="M688.6 900.3L682.1 898.4L682.1 902.2Z" fill="#000" stroke="none"/>
<path d="M710.4 900.3L716.9 898.4L716.9 902.2Z" fill="#000" stroke="none"/>
<circle cx="836.2" cy="797.2" r="29.4" stroke-width="3"/>
<path d="M825.2 856.5V792.5Q825.2 781.5 836.3 781.5Q847.4 781.5 847.4 792.5V856.5" stroke-width="3" fill="#fff"/>
<rect x="824" y="856" width="24.6" height="10.2" fill="#000" stroke="none" rx="1"/>
<path d="M869 793.4L904.6 793.4"/>
<path d="M851.3 857L904.6 857"/>
<path d="M898.7 793.4L898.7 810.2"/>
<path d="M898.7 842.5L898.7 857"/>
<path d="M898.7 794.4L896.8 800.9L900.6 800.9Z" fill="#000" stroke="none"/>
<path d="M898.7 856L896.8 849.5L900.6 849.5Z" fill="#000" stroke="none"/>
<path d="M548.3 1035.7L548.3 1072.7"/>
<path d="M570.5 1035.7L570.5 1072.7"/>
<path d="M528.3 1041.3L548.3 1041.3"/>
<path d="M570.5 1041.3L590.5 1041.3"/>
<path d="M547.3 1041.3L540.8 1039.4L540.8 1043.2Z" fill="#000" stroke="none"/>
<path d="M571.5 1041.3L578 1039.4L578 1043.2Z" fill="#000" stroke="none"/>
<rect x="548.8" y="1075.6" width="21.2" height="60" stroke-width="3"/>
<path d="M550.5 1135.5L550.5 1789.6" stroke-width="3"/>
<path d="M567.6 1135.5L567.6 1789.6" stroke-width="3"/>
<rect x="548.8" y="1789.8" width="21.4" height="59.8" stroke-width="3"/>
<path d="M443.3 1075.5L544.6 1075.5"/>
<path d="M443.2 1849.6L544.5 1849.6"/>
<path d="M448.6 1075.5L448.6 1437.8"/>
<path d="M448.6 1487.8L448.6 1849.6"/>
<path d="M448.6 1076.5L446.7 1083L450.5 1083Z" fill="#000" stroke="none"/>
<path d="M448.6 1848.6L446.7 1842.1L450.5 1842.1Z" fill="#000" stroke="none"/>
<path d="M486.4 1055.1L486.4 1075.5"/>
<path d="M486.4 1074.5L484.5 1068L488.3 1068Z" fill="#000" stroke="none"/>
<path d="M480.3 1135.5L544.6 1135.5"/>
<path d="M480.7 1789.6L544.5 1789.6"/>
<path d="M486.4 1135.5L486.4 1437.8"/>
<path d="M486.4 1486.3L486.4 1789.6"/>
<path d="M486.4 1136.5L484.5 1143L488.3 1143Z" fill="#000" stroke="none"/>
<path d="M486.4 1788.6L484.5 1782.1L488.3 1782.1Z" fill="#000" stroke="none"/>
<path d="M486.3 1849.6L486.3 1869.4"/>
<path d="M486.3 1850.6L484.4 1857.1L488.2 1857.1Z" fill="#000" stroke="none"/>
<path d="M531.3 1170.1L549.2 1170.1"/>
<path d="M569 1170.1L588 1170.1"/>
<path d="M549 1170.1L542.5 1168.2L542.5 1172Z" fill="#000" stroke="none"/>
<path d="M569.2 1170.1L575.7 1168.2L575.7 1172Z" fill="#000" stroke="none"/>
<pattern id="h1" patternUnits="userSpaceOnUse" x="583.6" y="1454.5" width="13.45" height="6.9"><path d="M0.6 4.2L5.5 0.5M7.45 -3.2L11.4 1M7.45 3.7L11.4 7.9" stroke="#fff" stroke-width="1.4" fill="none"/></pattern>
<path d="M589.7 1456V2148.2A147.35 147.35 0 0 0 884.4 2148.2V2038.4" stroke-width="16.6"/>
<path d="M589.7 1456V2148.2A147.35 147.35 0 0 0 884.4 2148.2V2038.4" stroke="url(#h1)" stroke-width="11"/>
<path d="M569 1289Q578.6 1300 578.8 1318L577.2 1400L578.3 1419" stroke-width="3" fill="#fff"/>
<path d="M611 1288.4Q600.4 1298 600.4 1316L602 1400L601.6 1419" stroke-width="3" fill="#fff"/>
<rect x="579.5" y="1300" width="20" height="118" fill="#fff" stroke="none"/>
<circle cx="590" cy="1245.3" r="44" stroke-width="5.8" fill="#fff"/>
<circle cx="590" cy="1245.3" r="44.6" stroke-width="0.6" stroke="#fff" stroke-dasharray="26 300" transform="rotate(-110 590 1244.8)"/>
<path d="M627 1245.3h0M625.9 1254.2h0M622.8 1262.5h0M617.7 1269.8h0M611 1275.8h0M603.1 1279.9h0M576.9 1279.9h0M569 1275.8h0M562.3 1269.8h0M557.2 1262.5h0M554.1 1254.2h0M553 1245.3h0M554.1 1236.4h0M557.2 1228.1h0M562.3 1220.8h0M569 1214.8h0M576.9 1210.7h0M585.5 1208.6h0M594.5 1208.6h0M603.1 1210.7h0M611 1214.8h0M617.7 1220.8h0M622.8 1228.1h0M625.9 1236.4h0M619.3 1249.7h0M616.7 1258.2h0M611.7 1265.4h0M604.8 1270.9h0M596.6 1274.2h0M579.2 1272.8h0M571.5 1268.4h0M565.5 1262h0M561.7 1254h0M560.4 1245.3h0M561.7 1236.6h0M565.6 1228.6h0M571.6 1222.2h0M579.2 1217.7h0M587.8 1215.8h0M596.6 1216.4h0M604.8 1219.7h0M611.7 1225.2h0M616.7 1232.5h0M619.3 1240.9h0" stroke-width="6.2" stroke-linecap="round"/>
<circle cx="590" cy="1245.3" r="20.8" stroke-width="6.6" stroke-dasharray="11.4 1.67"/>
<circle cx="590" cy="1245.3" r="15.8" stroke-width="1.2"/>
<circle cx="590" cy="1245.3" r="12.6" stroke-width="0" fill="#000"/>
<path d="M582.5 1241.5L597.5 1240L590.5 1253.5Z" stroke-width="0" fill="#fff"/>
<path d="M585 1247L596 1238.6" stroke-width="2.6"/>
<rect x="583.8" y="1275.5" width="12.3" height="4.5" fill="#000" stroke="none" rx="1"/>
<rect x="586.3" y="1279" width="6.7" height="22" fill="#000" stroke="none" rx="1"/>
<path d="M629.6 1216.9L642.2 1207.1" stroke-width="3"/>
<path d="M612 1232.6L622.2 1224.3" stroke-width="3.6"/>
<path d="M541.5 1289L567.5 1266.3" stroke-width="3"/>
<path d="M576.3 1419.3L603.3 1419.3" stroke-width="3"/>
<rect x="523" y="1427.8" width="83.3" height="27.2" stroke-width="3" fill="#fff"/>
<path d="M545.6 1427L545.6 1456" stroke-width="3.2"/>
<path d="M574.2 1427L574.2 1456" stroke-width="3.2"/>
<path d="M580.5 1420L580.5 1456" stroke-width="3.6"/>
<path d="M598.7 1420L598.7 1456" stroke-width="3.6"/>
<path d="M580.5 1421Q589.6 1436 598.7 1421" stroke-width="3"/>
<rect x="582" y="1447" width="15.5" height="9.3" fill="#000" stroke="none"/>
<rect x="583.5" y="1449.2" width="13" height="2.2" fill="#fff" stroke="none"/>
<rect x="531.2" y="1455" width="7.3" height="14.2" stroke-width="3"/>
<path d="M519 2012.3L578 2012.3"/>
<path d="M581.5 2012.3L573.5 2009.2L573.5 2015.4Z" stroke-width="0" fill="#000"/>
<circle cx="884.3" cy="2007.6" r="24.3" stroke-width="2.6" fill="#fff"/>
<circle cx="884.3" cy="2007.6" r="1" stroke-width="0" fill="#000"/>
<rect x="872.6" y="2027.4" width="24.2" height="10.2" stroke-width="2.4" fill="#fff"/>
<path d="M878.5 2027.4L878.5 2037.6" stroke-width="2"/>
<path d="M890.5 2027.4L890.5 2037.6" stroke-width="2"/>
<path d="M849.3 1981.8L862.9 1991.6"/>
<path d="M1024.5 1035.2L1024.5 1072.2"/>
<path d="M1089.5 1035.2L1089.5 1072.2"/>
<path d="M1024.5 1041.4L1040.3 1041.4"/>
<path d="M1073.5 1041.4L1089.5 1041.4"/>
<path d="M1025.5 1041.4L1032 1039.5L1032 1043.3Z" fill="#000" stroke="none"/>
<path d="M1088.5 1041.4L1082 1039.5L1082 1043.3Z" fill="#000" stroke="none"/>
<rect x="1024.6" y="1075.6" width="64.9" height="59.8" stroke-width="3"/>
<path d="M1070.6 1135.4L1070.6 1789.6" stroke-width="3"/>
<path d="M1086.7 1135.4L1086.7 1789.6" stroke-width="3"/>
<rect x="1024.6" y="1789.8" width="64.9" height="59.6" stroke-width="3"/>
<path d="M1102.3 1200.2L1158.5 1200.2"/>
<path d="M1094.2 1419.3L1158.5 1419.3"/>
<path d="M1153 1200.2L1153 1287.1"/>
<path d="M1153 1336.7L1153 1419.3"/>
<path d="M1153 1201.2L1151.1 1207.7L1154.9 1207.7Z" fill="#000" stroke="none"/>
<path d="M1153 1418.3L1151.1 1411.8L1154.9 1411.8Z" fill="#000" stroke="none"/>
<path d="M1087.5 1219.6L1097.5 1204L1101.3 1200.6L1108 1200.6L1114.5 1203" stroke-width="3.4"/>
<path d="M1101.3 1203.6Q1094 1222 1088.4 1242.2" stroke-width="2.6"/>
<path d="M1111.7 1203L1115.4 1204.1L1116.7 1215.1L1115.4 1229.7L1112.2 1242.2L1107 1257.9L1101.8 1270.5L1097.6 1275.7L1097.6 1291.9L1098.9 1298.7L1096.1 1304.9L1090.3 1306.5L1087 1304.5L1087 1276L1091.3 1268.4L1096.6 1252.7L1101.8 1237L1107 1221.3L1111.7 1205.7Z" stroke-width="0" fill="#000"/>
<path d="M1109.4 1227.4h0M1107.3 1234.9h0M1103.6 1243.8h0M1100 1253.5h0M1097.9 1261.6h0M1094.7 1269.7h0" stroke-width="1.6" stroke="#fff" stroke-linecap="round"/>
<ellipse cx="1091.5" cy="1294" rx="2.8" ry="5.6" fill="#fff" stroke="none"/>
<path d="M1069 1300L1066.6 1360L1065.2 1419" stroke-width="3"/>
<path d="M1087.8 1317L1090.4 1360L1091 1419" stroke-width="3"/>
<path d="M1068.5 1300L1068.5 1360" stroke-width="3.4"/>
<path d="M1064.5 1419.3L1092 1419.3" stroke-width="3"/>
<rect x="1064.6" y="1427.6" width="23" height="27.8" stroke-width="3" fill="#fff"/>
<path d="M1070.6 1420L1070.6 1427" stroke-width="4"/>
<circle cx="1092.5" cy="1440.3" r="14" stroke-width="2.9" fill="#fff"/>
<rect x="1089" y="1455.5" width="7.3" height="13.8" stroke-width="3"/>
<path d="M1087.4 1455L1087.4 1470" stroke-width="3.4"/>
<pattern id="h2" patternUnits="userSpaceOnUse" x="1075.6" y="2033.7" width="13.4" height="6.9"><path d="M0.6 4.2L5.5 0.5M7.45 -3.2L11.4 1M7.45 3.7L11.4 7.9" stroke="#fff" stroke-width="1.4" fill="none"/></pattern>
<path d="M1078.4 1849.4V2289.3A20.5 20.5 0 0 1 1037.4 2289.3V2039.6" stroke-width="16.6"/>
<path d="M1078.4 1849.4V2289.3A20.5 20.5 0 0 1 1037.4 2289.3V2039.6" stroke="url(#h2)" stroke-width="11"/>
<rect x="1025.2" y="1984.4" width="24.8" height="41" stroke-width="3" fill="#fff"/>
<path d="M1050 1984Q1053.6 2005 1050 2026" stroke-width="3.4"/>
<rect x="1006.5" y="1996.3" width="18.1" height="21.6" fill="#000" stroke="none" rx="2"/>
<rect x="1025.8" y="2025.6" width="23.6" height="13" stroke-width="2.6" fill="#fff"/>
<path d="M1031.6 2026L1031.6 2038" stroke-width="2"/>
<path d="M1043.6 2026L1043.6 2038" stroke-width="2"/>
<path d="M972 1997.4L1004.9 1997.4"/>
<path d="M972 2017.4L1004.9 2017.4"/>
<path d="M977.6 1977.9L977.6 1997.4"/>
<path d="M977.6 2017.4L977.6 2036.8"/>
<path d="M977.6 1996.4L975.7 1989.9L979.5 1989.9Z" fill="#000" stroke="none"/>
<path d="M977.6 2018.4L975.7 2024.9L979.5 2024.9Z" fill="#000" stroke="none"/>
</g>
<g fill="#000" stroke="#fff" stroke-width="0.35" font-family="'Liberation Sans',Arial,sans-serif" font-size="26.5" text-anchor="middle">
<text transform="translate(130.5 155.3) rotate(-90) scale(0.943 1)" y="8.9" textLength="84.8" lengthAdjust="spacingAndGlyphs">75-100</text>
<text transform="translate(204 117.3) scale(0.943 1)" y="8.9">38</text>
<text transform="translate(257.5 140.6) rotate(-90) scale(0.943 1)" y="8.9" textLength="48.8" lengthAdjust="spacingAndGlyphs">15.2</text>
<text transform="translate(572.8 140.6) rotate(-90) scale(0.943 1)" y="8.9" textLength="48.8" lengthAdjust="spacingAndGlyphs">15.2</text>
<text transform="translate(204.3 228.5) scale(0.943 1)" y="8.9">51</text>
<text transform="translate(203.4 38.5) scale(0.943 1)" y="8.9">42</text>
<text transform="translate(522.5 38.5) scale(0.943 1)" y="8.9">42</text>
<text transform="translate(365 38.6) scale(0.943 1)" y="8.9">50</text>
<text transform="translate(314 181.1)" y="2.6" font-size="7.4" stroke="#000" stroke-width="0.15" textLength="21" lengthAdjust="spacingAndGlyphs">INLET</text>
<text transform="translate(314 192.5)" y="2.6" font-size="7.4" stroke="#000" stroke-width="0.15" textLength="22" lengthAdjust="spacingAndGlyphs">G.1/2</text>
<text transform="translate(418.5 181.8)" y="2.6" font-size="7.4" stroke="#000" stroke-width="0.15" textLength="28.5" lengthAdjust="spacingAndGlyphs">OUTLET</text>
<text transform="translate(418.8 193.2)" y="2.6" font-size="7.4" stroke="#000" stroke-width="0.15" textLength="23" lengthAdjust="spacingAndGlyphs">G.1/2</text>
<text transform="translate(349.6 228.4) scale(0.943 1)" y="8.9">31</text>
<text transform="translate(365.3 256.4) scale(0.943 1)" y="8.9">62</text>
<text transform="translate(803.4 38.5) scale(0.943 1)" y="8.9">42</text>
<text transform="translate(803.4 110.9) scale(0.943 1)" y="8.9">38</text>
<text transform="translate(671.3 143.5) rotate(-90) scale(0.943 1)" y="8.9" textLength="67.8" lengthAdjust="spacingAndGlyphs">75-95</text>
<text transform="translate(704.5 125.2) rotate(-90) scale(0.943 1)" y="8.9" textLength="48.8" lengthAdjust="spacingAndGlyphs">15.2</text>
<text transform="translate(803.4 213.9) scale(0.943 1)" y="8.9">145</text>
<text transform="translate(901.6 221.7) rotate(-90) scale(0.943 1)" y="8.9">18</text>
<text transform="translate(992.8 38.5) scale(0.943 1)" y="8.9">50</text>
<text transform="translate(1050 153.5)" y="2.6" font-size="7.4" stroke="#000" stroke-width="0.15" textLength="30.5" lengthAdjust="spacingAndGlyphs">OUTLET</text>
<text transform="translate(1049.7 164.3)" y="2.6" font-size="7.4" stroke="#000" stroke-width="0.15" textLength="23.5" lengthAdjust="spacingAndGlyphs">G.1/2</text>
<text transform="translate(1074.5 231.7) rotate(-90) scale(0.943 1)" y="8.9" textLength="48.8" lengthAdjust="spacingAndGlyphs">15.2</text>
<text transform="translate(1198 38.6) scale(0.943 1)" y="8.9">42</text>
<text transform="translate(1111.4 164.2)" y="2.6" font-size="7.4" stroke="#000" stroke-width="0.15" textLength="22" lengthAdjust="spacingAndGlyphs">INLET</text>
<text transform="translate(1111.7 175.1)" y="2.6" font-size="7.4" stroke="#000" stroke-width="0.15" textLength="23.5" lengthAdjust="spacingAndGlyphs">G.1/2</text>
<text transform="translate(1285.2 164.2)" y="2.6" font-size="7.4" stroke="#000" stroke-width="0.15" textLength="22" lengthAdjust="spacingAndGlyphs">INLET</text>
<text transform="translate(1285.6 175.1)" y="2.6" font-size="7.4" stroke="#000" stroke-width="0.15" textLength="23.5" lengthAdjust="spacingAndGlyphs">G.1/2</text>
<text transform="translate(1507.2 37.7) scale(0.943 1)" y="8.9" textLength="51.9" lengthAdjust="spacingAndGlyphs">Ø44</text>
<text transform="translate(1514 66.7) scale(0.943 1)" y="8.9" textLength="73.1" lengthAdjust="spacingAndGlyphs">G1/2"</text>
<text transform="translate(1361.7 135.5) rotate(-90) scale(0.943 1)" y="8.9">88</text>
<text transform="translate(1393.4 158.5) rotate(-90) scale(0.943 1)" y="8.9">38</text>
<text transform="translate(1502.5 139) rotate(-90) scale(0.943 1)" y="8.9">8</text>
<text transform="translate(1503.8 274.4) rotate(39) scale(0.943 1)" y="8.9" textLength="53" lengthAdjust="spacingAndGlyphs">Ø50</text>
<text transform="translate(365.3 301.5) scale(0.943 1)" y="8.9">100</text>
<text transform="translate(365.3 333.8) scale(0.943 1)" y="8.9">42</text>
<text transform="translate(286.2 428.6) rotate(-90) scale(0.943 1)" y="8.9">77</text>
<text transform="translate(440.4 412) rotate(-90) scale(0.943 1)" y="8.9">50</text>
<text transform="translate(471.5 411.2) rotate(-90) scale(0.943 1)" y="8.9">100</text>
<text transform="translate(415 495.6) scale(0.943 1)" y="8.9">26</text>
<text transform="translate(992.7 279.5) scale(0.943 1)" y="8.9">125</text>
<text transform="translate(905.6 377.2) rotate(-90) scale(0.943 1)" y="8.9">125</text>
<text transform="translate(1079.6 377.2) rotate(-90) scale(0.943 1)" y="8.9">42</text>
<text transform="translate(992.7 475.9) scale(0.943 1)" y="8.9">50</text>
<text transform="translate(1320.5 520.8) scale(0.943 1)" y="8.9" textLength="81.1" lengthAdjust="spacingAndGlyphs">G 1/2"</text>
<text transform="translate(1081.7 581.2) rotate(-90) scale(0.943 1)" y="8.9">53</text>
<text transform="translate(1419 634.3) rotate(-90) scale(0.943 1)" y="8.9">6</text>
<text transform="translate(1079.6 698.1) rotate(31) scale(0.943 1)" y="8.9" textLength="65.7" lengthAdjust="spacingAndGlyphs">Ø300</text>
<text transform="translate(522.2 700.4) scale(0.943 1)" y="8.9">400</text>
<text transform="translate(369.3 732.6) scale(0.943 1)" y="8.9">65</text>
<text transform="translate(555.8 732.6) scale(0.943 1)" y="8.9">335</text>
<text transform="translate(273.7 796) rotate(-90) scale(0.943 1)" y="8.9" textLength="49.8" lengthAdjust="spacingAndGlyphs">Ø60</text>
<text transform="translate(307 728) rotate(-90) scale(0.943 1)" y="8.9" textLength="72.6" lengthAdjust="spacingAndGlyphs">G1/2"</text>
<text transform="translate(347.3 859.1) scale(0.943 1)" y="8.9">9.5</text>
<text transform="translate(521 855) rotate(-90) scale(0.943 1)" y="8.9" textLength="49.8" lengthAdjust="spacingAndGlyphs">Ø24</text>
<text transform="translate(749.5 809.6) rotate(-90) scale(0.943 1)" y="8.9" textLength="48.8" lengthAdjust="spacingAndGlyphs">10.5</text>
<text transform="translate(632 899.7) scale(0.943 1)" y="8.9" textLength="73.1" lengthAdjust="spacingAndGlyphs">G1/2"</text>
<text transform="translate(897.9 826.3) rotate(-90) scale(0.943 1)" y="8.9">74</text>
<text transform="translate(607.7 1041) scale(0.943 1)" y="8.9">24</text>
<text transform="translate(448.9 1462.4) rotate(-90) scale(0.943 1)" y="8.9">830</text>
<text transform="translate(485.6 1105.5) rotate(-90) scale(0.943 1)" y="8.9">65</text>
<text transform="translate(485.6 1463.2) rotate(-90) scale(0.943 1)" y="8.9">700</text>
<text transform="translate(485.8 1819.6) rotate(-90) scale(0.943 1)" y="8.9">65</text>
<text transform="translate(616 1170) scale(0.943 1)" y="8.9" textLength="51.9" lengthAdjust="spacingAndGlyphs">Ø18</text>
<text transform="translate(672.6 1186) rotate(-41) scale(0.943 1)" y="8.9" textLength="65.7" lengthAdjust="spacingAndGlyphs">Ø100</text>
<text transform="translate(453.7 2012.1) scale(0.943 1)" y="8.9" textLength="126.7" lengthAdjust="spacingAndGlyphs">FLEX 1.5m</text>
<text transform="translate(826.3 1967.2) rotate(38) scale(0.943 1)" y="8.9" textLength="51.9" lengthAdjust="spacingAndGlyphs">Ø52</text>
<text transform="translate(1056.2 1040.6) scale(0.943 1)" y="8.9">69</text>
<text transform="translate(1152.6 1312.3) rotate(-90) scale(0.943 1)" y="8.9">230</text>
<text transform="translate(977 2078.4) rotate(-90) scale(0.943 1)" y="8.9" textLength="80.6" lengthAdjust="spacingAndGlyphs">G 1/2"</text>
</g>
<g fill="none" stroke="#000" stroke-width="2.7">
<path transform="translate(0 0)" d="M179.3 101H228.7V106.5L225 110.6H183L179.3 106.5Z" fill="#000" stroke="none"/>
<path transform="translate(319.1 0)" d="M179.3 101H228.7V106.5L225 110.6H183L179.3 106.5Z" fill="#000" stroke="none"/>
<path d="M779.8 96.2L828.8 96.2L828.8 101.1L824.8 104.9L783.8 104.9L779.8 101.1Z" fill="#000" stroke="none"/>
<path d="M273.7 748.7V843.6"/>
</g>
</svg>
</body></html>
